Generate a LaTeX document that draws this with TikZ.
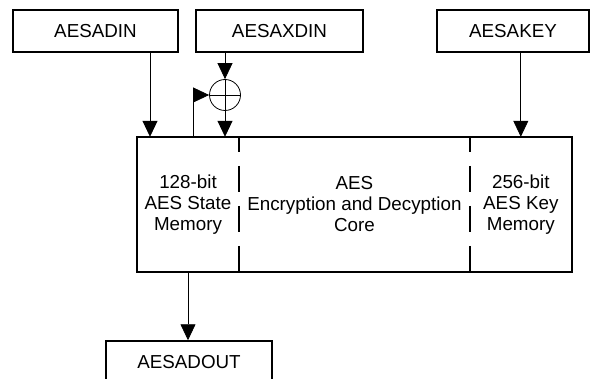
\documentclass[tikz,border=0pt]{standalone}
\usepackage{fontspec}
\setmainfont{Liberation Sans}
\usetikzlibrary{positioning, arrows.meta, calc}

\begin{document}
\begin{tikzpicture}[x=1pt, y=-1pt,
    box/.style={draw, line width=1.5pt, minimum height=42pt, inner sep=0pt, font=\fontsize{18.8}{21}\selectfont},
    part/.style={minimum height=135pt, inner sep=0pt, align=center, font=\fontsize{18.8}{21}\selectfont},
    arrow/.style={-{Triangle[length=16pt, width=15pt]}, line width=0.8pt},
    divider/.style={line width=1.8pt, dash pattern=on 26pt off 14pt, dash phase=11pt}
]
\useasboundingbox (0,0) rectangle (591,379);

% input registers
\node[box, minimum width=165pt] (adin) at (95.5,31) {AESADIN};
\node[box, minimum width=167pt] (axdin) at (279.5,31) {AESAXDIN};
\node[box, minimum width=152pt] (akey) at (513,31) {AESAKEY};

% AES module
\node[part, minimum width=102pt] (state) at (188,204.5) {128-bit\\AES State\\Memory};
\node[part, minimum width=230pt, right=0pt of state] (core) {AES\\Encryption and Decyption\\Core};
\node[part, minimum width=102pt, right=0pt of core] (keymem) {256-bit\\AES Key\\Memory};
\draw[line width=1.8pt] (state.north west) rectangle (keymem.south east);
\draw[divider] (state.north east) -- (state.south east);
\draw[divider] (keymem.north west) -- (keymem.south west);

% xor
\node[draw, circle, minimum size=31pt, inner sep=0pt, line width=0.8pt] (xor) at (225,95) {};
\draw[line width=0.8pt] (xor.north) -- (xor.south) (xor.west) -- (xor.east);

% output register
\node[box, minimum width=166pt] (aout) at (189,362) {AESADOUT};

\coordinate (din) at ([xshift=-38pt]state.north);
\draw[arrow] (adin.south -| din) -- (din);
\draw[arrow] (axdin.south -| xor) -- (xor);
\draw[arrow] (xor) -- (xor |- state.north);
\draw[arrow] ([xshift=5pt]state.north) |- (xor.west);
\draw[arrow] (akey.south -| keymem.north) -- (keymem.north);
\draw[arrow] (state.south) -- (state.south |- aout.north);
\end{tikzpicture}
\end{document}
